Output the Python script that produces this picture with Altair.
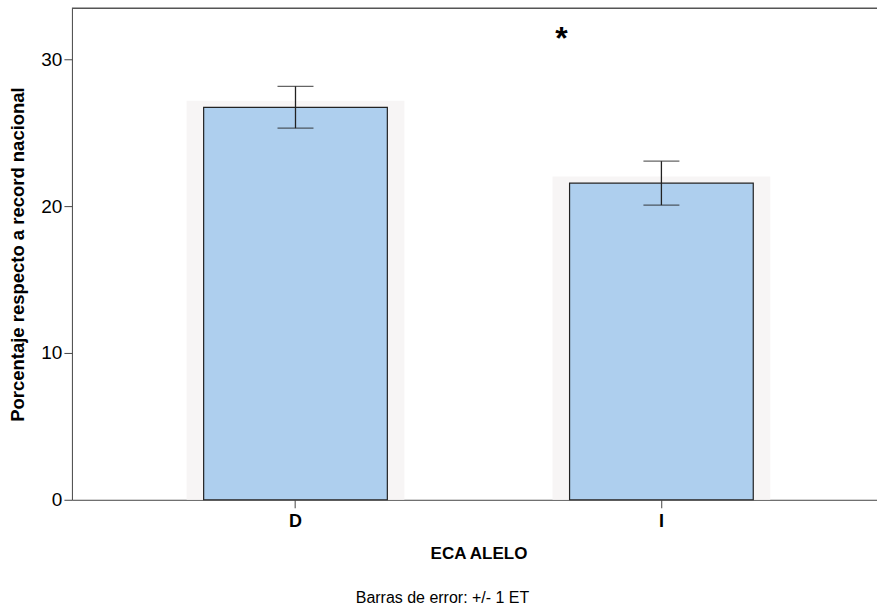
import altair as alt
import pandas as pd

alelos = ["D", "I"]
medias = [26.73, 21.56]
limite_inf = [25.31, 20.07]
limite_sup = [28.16, 23.06]

df = pd.DataFrame({"alelo": alelos, "media": medias, "inf": limite_inf, "sup": limite_sup})
df["halo"] = df["media"] + 0.45

FONT = "Liberation Sans"
W, H = 806, 492

xscale = alt.Scale(domain=alelos, range=[0, 814], paddingInner=0.498, paddingOuter=0.36)
yscale = alt.Scale(domain=[0, 33.47], nice=False, zero=True)

xaxis = alt.Axis(title="ECA ALELO", labelAngle=0, tickSize=8,
                 labelFontSize=18, labelFontWeight="bold",
                 labelPadding=5, titleFontSize=17, titleFontWeight="bold",
                 titlePadding=15, domainColor="#444", tickColor="#444",
                 labelColor="#000", titleColor="#000")
yaxis = alt.Axis(title="Porcentaje respecto a record nacional",
                 values=[0, 10, 20, 30], tickSize=8, labelFontSize=19,
                 labelPadding=2, titleFontSize=18.5, titleFontWeight="bold",
                 titlePadding=13, grid=False, domainColor="#444",
                 tickColor="#444", labelColor="#000", titleColor="#000")

x_enc = alt.X("alelo:N", scale=xscale, sort=alelos, axis=xaxis)

base = alt.Chart(df)

halo = base.mark_bar(size=218, color="#f7f5f5").encode(
    x=x_enc, y=alt.Y("halo:Q", scale=yscale, axis=yaxis))
bars = base.mark_bar(color="#aecfee", stroke="#222222", strokeWidth=1.2).encode(
    x=x_enc, y=alt.Y("media:Q", scale=yscale, axis=yaxis))
err = base.mark_rule(color="#222222", strokeWidth=1.3).encode(
    x=x_enc, y=alt.Y("inf:Q", scale=yscale, axis=yaxis), y2="sup:Q")
cap_top = base.mark_tick(color="#222222", size=36, thickness=1.3).encode(
    x=x_enc, y=alt.Y("sup:Q", scale=yscale, axis=yaxis))
cap_bot = base.mark_tick(color="#222222", size=36, thickness=1.3).encode(
    x=x_enc, y=alt.Y("inf:Q", scale=yscale, axis=yaxis))

top_line = alt.Chart(pd.DataFrame({"a": [0]})).mark_rule(color="#555", strokeWidth=1.5).encode(
    x=alt.value(0), x2=alt.value(W + 10), y=alt.value(0))

asterisk = alt.Chart(pd.DataFrame({"t": ["*"]})).mark_text(
    font=FONT, fontSize=32, fontWeight="bold", color="#000", baseline="middle").encode(
    text="t:N", x=alt.value(490), y=alt.value(31))

note = alt.Chart(pd.DataFrame({"t": ["Barras de error: +/- 1 ET"]})).mark_text(
    font=FONT, fontSize=16, color="#000", baseline="middle").encode(
    text="t:N", x=alt.value(371), y=alt.value(590))

chart = alt.layer(halo, bars, err, cap_top, cap_bot, top_line, asterisk, note).properties(
    width=W, height=H,
    autosize=alt.AutoSizeParams(type="none"),
    padding={"left": 72, "top": 8, "right": 0, "bottom": 106},
    background="white",
).configure_view(stroke=None).configure_axis(labelFont=FONT, titleFont=FONT)

chart.save("out.html", embed_options={"renderer": "svg", "actions": False})
